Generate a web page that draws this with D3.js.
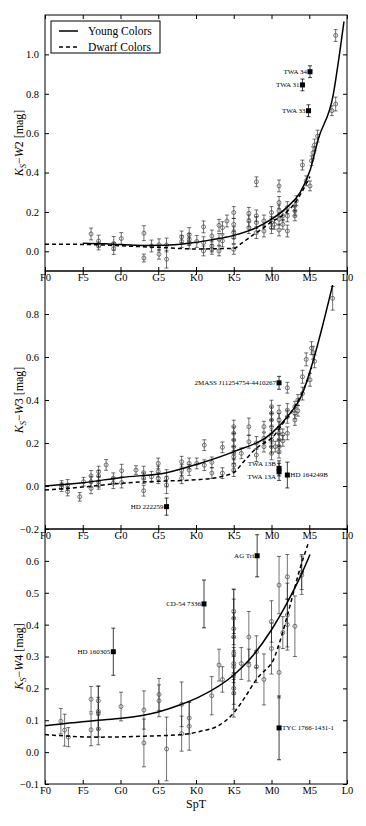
<!DOCTYPE html>
<html>
<head>
<meta charset="utf-8">
<script src="https://cdn.jsdelivr.net/npm/d3@7"></script>
<style>
  body { margin: 0; background: #fff; }
  text { font-family: "Liberation Serif", serif; }
</style>
</head>
<body>
<div id="chart"></div>
<script>
// spectral type axis: F0 = 0 ... L0 = 40
const sptTicks = [0, 5, 10, 15, 20, 25, 30, 35, 40];
const sptLabels = ["F0", "F5", "G0", "G5", "K0", "K5", "M0", "M5", "L0"];

// Ks - W2   [spt, value, error]
const w2Points = [
  [6.1,0.088,0.03],[7.1,0.052,0.03],[7.1,0.027,0.02],[9.1,0.040,0.035],[9.1,0.014,0.03],[10.1,0.065,0.03],
  [13.1,0.092,0.038],[13.1,-0.034,0.02],[14.1,0.027,0.03],[15.1,0.033,0.03],[15.1,-0.015,0.025],
  [16.1,0.032,0.035],[16.1,-0.04,0.045],[18.1,0.073,0.03],[18.1,0.05,0.03],[19.1,0.085,0.035],[19.1,0.06,0.03],[19.1,0.042,0.03],
  [20.1,0.05,0.03],[21.0,0.124,0.03],[21.0,0.044,0.03],[21.0,0.002,0.025],
  [22.1,0.078,0.03],[22.1,0.027,0.03],[22.1,0.01,0.025],
  [23.05,0.132,0.03],[23.05,0.061,0.03],[23.05,0.002,0.025],[23.5,0.12,0.03],[23.5,0.053,0.03],[24.1,0.154,0.03],
  [25,0.197,0.03],[25,0.137,0.03],[25,0.095,0.03],[25,0.07,0.03],[25,0.01,0.025],
  [27,0.193,0.03],[27,0.154,0.03],[27,0.12,0.03],
  [28,0.353,0.025],[28,0.18,0.03],[28,0.146,0.03],[28,0.095,0.03],
  [29,0.154,0.03],[29,0.103,0.03],
  [30,0.197,0.03],[30,0.146,0.03],[30,0.12,0.03],[30.4,0.137,0.025],
  [31,0.332,0.03],[31,0.248,0.03],[31,0.205,0.03],[31,0.163,0.03],[31,0.108,0.03],
  [31.5,0.18,0.025],[31.5,0.137,0.025],
  [32.1,0.222,0.03],[32.1,0.18,0.03],[32.1,0.103,0.03],
  [33.1,0.231,0.025],[33.1,0.205,0.025],[33.1,0.18,0.025],[33.3,0.257,0.025],
  [34.1,0.438,0.025],[34.6,0.358,0.025],[35.1,0.332,0.025],
  [35.3,0.46,0.025],[35.5,0.50,0.03],[35.7,0.54,0.03],[36.1,0.585,0.03],
  [38.0,0.714,0.025],[38.5,0.748,0.035],[38.5,1.096,0.03]
];
const w2Named = [
  ["TWA 34", 35.1, 0.912, 0.03],
  ["TWA 31", 34.1, 0.845, 0.03],
  ["TWA 33", 34.9, 0.714, 0.03]
];
const w2Young = [[5,0.041],[8,0.038],[10,0.034],[13,0.030],[16,0.031],[19,0.041],[22,0.058],[25,0.081],[28,0.12],
  [30,0.163],[32,0.222],[33.8,0.299],[35.1,0.41],[36.2,0.57],[38.2,0.8],[39,1.0],[39.6,1.167]];
const w2Dwarf = [[0,0.036],[5,0.035],[10,0.028],[15,0.02],[20,0.012],[25,0.015],[26,0.04],[27,0.068],[28,0.095],
  [29,0.12],[30,0.15],[31,0.17],[32,0.2],[33,0.24],[34,0.3],[35.1,0.38]];

// Ks - W3
const w3Points = [
  [2.2,0.005,0.02],[2.2,-0.006,0.02],[3.0,0.005,0.025],[3.0,-0.026,0.02],[4.6,-0.05,0.02],[5.1,0.02,0.02],
  [6.1,0.047,0.025],[6.1,0.02,0.025],[6.1,-0.011,0.025],
  [7.1,0.067,0.025],[7.1,0.047,0.025],[7.1,0.02,0.025],[7.1,0.005,0.02],
  [8.1,0.098,0.025],[9.05,0.036,0.025],[9.05,0.013,0.025],[10.15,0.071,0.03],[10.15,0.016,0.025],
  [12.05,0.074,0.02],[13.07,0.062,0.03],[13.07,0.036,0.025],[13.07,-0.022,0.025],[14.1,0.043,0.025],
  [15,0.105,0.025],[15,0.067,0.025],[15,0.036,0.025],[16.1,0.036,0.04],[16.1,0.005,0.04],
  [18.1,0.113,0.025],[18.1,0.074,0.025],[18.1,0.036,0.025],[19.1,0.105,0.025],[19.1,0.074,0.025],[20.1,0.105,0.025],
  [21.1,0.19,0.025],[21.1,0.097,0.025],[22.1,0.11,0.025],[22.1,0.06,0.025],[23.5,0.18,0.025],[23.5,0.06,0.025],
  [25,0.276,0.03],[25,0.245,0.03],[25,0.214,0.03],[25,0.183,0.03],[25,0.152,0.03],[25,0.136,0.03],[25,0.097,0.03],[25,0.074,0.03],
  [26,0.152,0.025],[27,0.276,0.04],[27,0.206,0.03],[28,0.2,0.03],[28,0.144,0.03],
  [29,0.276,0.025],[29,0.222,0.025],[29,0.183,0.025],
  [30,0.369,0.03],[30,0.338,0.03],[30,0.307,0.03],[30,0.276,0.03],[30,0.23,0.03],[30,0.214,0.03],[30,0.183,0.03],[30,0.152,0.03],
  [30.5,0.183,0.025],
  [31,0.345,0.03],[31,0.307,0.03],[31,0.268,0.03],[31,0.245,0.03],[31,0.214,0.03],[31,0.183,0.03],[31,0.16,0.03],
  [31.5,0.24,0.025],[31.5,0.21,0.025],
  [32.1,0.457,0.025],[32.1,0.353,0.03],[32.1,0.322,0.03],[32.1,0.245,0.03],
  [33.1,0.369,0.025],[33.1,0.338,0.025],[33.1,0.307,0.025],[33.5,0.4,0.025],[33.5,0.35,0.025],
  [34.1,0.508,0.03],[34.1,0.43,0.03],[34.6,0.589,0.03],[35.1,0.494,0.03],
  [35.3,0.641,0.03],[35.5,0.62,0.03],[35.7,0.58,0.03],[38.1,0.873,0.055]
];
const w3Named = [
  ["2MASS J11254754-4410267", 31.0, 0.48, 0.03],
  ["TWA 13B", 31.0, 0.082, 0.035],
  ["TWA 13A", 31.0, 0.066, 0.04],
  ["HD 164249B", 32.1, 0.051, 0.06],
  ["HD 222259", 16.1, -0.096, 0.04]
];
const w3Young = [[0,0.0],[5,0.015],[10.15,0.04],[16.1,0.062],[20.5,0.105],[25,0.16],[30,0.245],[32.1,0.322],
  [34.1,0.43],[35.5,0.58],[36.8,0.75],[38.1,0.935]];
const w3Dwarf = [[0,-0.019],[5,-0.005],[10.15,0.013],[15,0.022],[20.5,0.03],[23.5,0.045],[25.2,0.067],[26,0.1],
  [27,0.14],[28,0.176],[29,0.2],[30,0.222],[31.5,0.29],[33.1,0.37],[34.5,0.47],[35.3,0.55]];

// Ks - W4
const w4Points = [
  [2.1,0.097,0.04],[2.6,0.069,0.05],[3.1,0.047,0.03],
  [6.1,0.166,0.04],[6.1,0.07,0.05],
  [7.06,0.161,0.045],[7.06,0.128,0.08],[7.06,0.122,0.05],[7.06,0.073,0.05],
  [10.07,0.143,0.045],
  [13.1,0.132,0.06],[13.1,0.029,0.075],
  [15.1,0.181,0.05],[15.1,0.161,0.05],
  [16.1,0.01,0.1],
  [18.1,0.15,0.07],[18.1,0.058,0.055],
  [19.1,0.107,0.05],[19.1,0.081,0.075],
  [22.08,0.177,0.06],[23.05,0.273,0.05],[23.5,0.228,0.04],
  [25,0.442,0.07],[25,0.42,0.06],[25,0.387,0.05],[25,0.361,0.06],[25,0.31,0.2],[25,0.278,0.05],[25,0.268,0.05],
  [25,0.242,0.06],[25,0.2,0.05],[25,0.185,0.05],
  [26,0.278,0.05],[27,0.361,0.08],[27,0.273,0.05],[28,0.315,0.05],[28,0.268,0.05],[29,0.228,0.08],
  [30,0.41,0.065],[30,0.325,0.08],[31,0.524,0.09],[31,0.25,0.08],[31.5,0.375,0.05],
  [32.1,0.55,0.07],[32.1,0.43,0.1],[32.1,0.40,0.08],[33.1,0.395,0.095],[34,0.565,0.055],[34,0.555,0.06]
];
const w4Named = [
  ["HD 160305", 9.05, 0.315, 0.074],
  ["CD-54 7336", 21.06, 0.465, 0.075],
  ["AG Tri", 28.1, 0.616, 0.066],
  ["TYC 1766-1431-1", 31.0, 0.076, 0.1]
];
const w4Young = [[0,0.083],[7.06,0.1],[10.15,0.106],[15,0.126],[18.1,0.15],[20.5,0.174],[25,0.242],[27,0.288],
  [30,0.384],[32.1,0.47],[34,0.56],[35.1,0.62]];
const w4Dwarf = [[0,0.055],[7,0.047],[13.2,0.05],[18.1,0.055],[20.5,0.065],[23.2,0.086],[25,0.123],[26.7,0.18],
  [28,0.228],[29.5,0.265],[30,0.278],[31.1,0.346],[32.4,0.455],[33.7,0.57],[34.9,0.657]];

const width = 366, height = 826;
const left = 45, right = 347;

const svg = d3.select("#chart").append("svg")
  .attr("width", width)
  .attr("height", height)
  .style("background", "#fff");

const x = d3.scaleLinear().domain([0, 40]).range([left, right]);

// labels drawn on the right side of their square
const labelRight = ["HD 164249B", "TYC 1766-1431-1"];
const labelShift = {"TWA 13B": -5, "TWA 13A": 5};

function drawPanel(p) {
  const y = d3.scaleLinear().domain(p.yDomain).range([p.bottom, p.top]);
  const g = svg.append("g");

  const clip = "clip" + p.band;
  svg.append("clipPath").attr("id", clip)
    .append("rect").attr("x", left).attr("y", p.top)
    .attr("width", right - left).attr("height", p.bottom - p.top);

  const plot = g.append("g").attr("clip-path", "url(#" + clip + ")");

  // error bars
  const eb = plot.selectAll("g.eb")
    .data(p.points)
    .enter()
    .append("g")
    .attr("stroke", "#000")
    .attr("stroke-opacity", 0.55)
    .attr("stroke-width", 1);
  eb.append("line")
    .attr("x1", d => x(d[0])).attr("x2", d => x(d[0]))
    .attr("y1", d => y(d[1] - d[2])).attr("y2", d => y(d[1] + d[2]));
  eb.append("line")
    .attr("x1", d => x(d[0]) - 2).attr("x2", d => x(d[0]) + 2)
    .attr("y1", d => y(d[1] + d[2])).attr("y2", d => y(d[1] + d[2]));
  eb.append("line")
    .attr("x1", d => x(d[0]) - 2).attr("x2", d => x(d[0]) + 2)
    .attr("y1", d => y(d[1] - d[2])).attr("y2", d => y(d[1] - d[2]));

  plot.selectAll("circle")
    .data(p.points)
    .enter()
    .append("circle")
    .attr("cx", d => x(d[0]))
    .attr("cy", d => y(d[1]))
    .attr("r", 2)
    .attr("fill", "none")
    .attr("stroke", "#555")
    .attr("stroke-width", 0.8);

  const line = d3.line()
    .x(d => x(d[0]))
    .y(d => y(d[1]))
    .curve(d3.curveMonotoneX);

  plot.append("path")
    .attr("d", line(p.dwarf))
    .attr("fill", "none")
    .attr("stroke", "#000")
    .attr("stroke-width", 1.5)
    .attr("stroke-dasharray", "4,3");

  plot.append("path")
    .attr("d", line(p.young))
    .attr("fill", "none")
    .attr("stroke", "#000")
    .attr("stroke-width", 1.5);

  // named objects
  const nm = g.selectAll("g.named")
    .data(p.named)
    .enter()
    .append("g");
  nm.append("line")
    .attr("x1", d => x(d[1])).attr("x2", d => x(d[1]))
    .attr("y1", d => y(d[2] - d[3])).attr("y2", d => y(d[2] + d[3]))
    .attr("stroke", "#000").attr("stroke-opacity", 0.75);
  nm.append("line")
    .attr("x1", d => x(d[1]) - 2).attr("x2", d => x(d[1]) + 2)
    .attr("y1", d => y(d[2] + d[3])).attr("y2", d => y(d[2] + d[3]))
    .attr("stroke", "#000").attr("stroke-opacity", 0.75);
  nm.append("line")
    .attr("x1", d => x(d[1]) - 2).attr("x2", d => x(d[1]) + 2)
    .attr("y1", d => y(d[2] - d[3])).attr("y2", d => y(d[2] - d[3]))
    .attr("stroke", "#000").attr("stroke-opacity", 0.75);
  nm.append("rect")
    .attr("x", d => x(d[1]) - 2.5)
    .attr("y", d => y(d[2]) - 2.5)
    .attr("width", 5).attr("height", 5)
    .attr("fill", "#000");
  nm.append("text")
    .attr("x", d => labelRight.includes(d[0]) ? x(d[1]) + 3 : x(d[1]) - 3)
    .attr("y", d => y(d[2]) + (labelShift[d[0]] || 0))
    .attr("dy", "0.35em")
    .attr("text-anchor", d => labelRight.includes(d[0]) ? "start" : "end")
    .attr("font-size", 7)
    .text(d => d[0]);

  // axes, ticks pointing inward
  const fmt = d3.format(".1f");
  g.append("g")
    .attr("transform", `translate(0,${p.bottom})`)
    .call(d3.axisBottom(x).tickValues(sptTicks).tickFormat((d, i) => sptLabels[i])
      .tickSizeInner(-4).tickSizeOuter(0).tickPadding(2.5))
    .call(a => a.select(".domain").remove())
    .call(a => a.selectAll("text").attr("font-size", 10.5).attr("font-family", "Liberation Serif").attr("fill", "#000"));
  g.append("g")
    .attr("transform", `translate(0,${p.top})`)
    .call(d3.axisTop(x).tickValues(sptTicks).tickFormat("").tickSizeInner(-4).tickSizeOuter(0))
    .call(a => a.select(".domain").remove());
  g.append("g")
    .attr("transform", `translate(${left},0)`)
    .call(d3.axisLeft(y).tickValues(p.yTicks).tickFormat(fmt)
      .tickSizeInner(-4).tickSizeOuter(0).tickPadding(6))
    .call(a => a.select(".domain").remove())
    .call(a => a.selectAll("text").attr("font-size", 10.5).attr("font-family", "Liberation Serif").attr("fill", "#000"));
  g.append("g")
    .attr("transform", `translate(${right},0)`)
    .call(d3.axisRight(y).tickValues(p.yTicks).tickFormat("").tickSizeInner(-4).tickSizeOuter(0))
    .call(a => a.select(".domain").remove());

  g.append("rect")
    .attr("x", left).attr("y", p.top)
    .attr("width", right - left).attr("height", p.bottom - p.top)
    .attr("fill", "none")
    .attr("stroke", "#000")
    .attr("stroke-width", 1);

  // y label  K_S - W# [mag]
  const yl = g.append("text")
    .attr("transform", `translate(23,${(p.top + p.bottom) / 2}) rotate(-90)`)
    .attr("text-anchor", "middle")
    .attr("font-size", 12);
  yl.append("tspan").attr("font-style", "italic").text("K");
  yl.append("tspan").attr("font-style", "italic").attr("font-size", 8.5).attr("dy", 2.5).text("S");
  yl.append("tspan").attr("dy", -2.5).text("\u2212");
  yl.append("tspan").attr("font-style", "italic").text("W");
  yl.append("tspan").text(p.band + " [mag]");
}

drawPanel({band: "2", top: 15, bottom: 271, yDomain: [-0.1, 1.2], yTicks: [0, 0.2, 0.4, 0.6, 0.8, 1.0],
  points: w2Points, named: w2Named, young: w2Young, dwarf: w2Dwarf});
drawPanel({band: "3", top: 271, bottom: 529, yDomain: [-0.2, 1.0], yTicks: [-0.2, 0, 0.2, 0.4, 0.6, 0.8],
  points: w3Points, named: w3Named, young: w3Young, dwarf: w3Dwarf});
drawPanel({band: "4", top: 529, bottom: 784, yDomain: [-0.1, 0.7], yTicks: [-0.1, 0, 0.1, 0.2, 0.3, 0.4, 0.5, 0.6],
  points: w4Points, named: w4Named, young: w4Young, dwarf: w4Dwarf});

svg.append("text")
  .attr("x", (left + right) / 2)
  .attr("y", 808)
  .attr("text-anchor", "middle")
  .attr("font-size", 12)
  .text("SpT");

// legend
const legend = svg.append("g");
legend.append("rect")
  .attr("x", 51).attr("y", 21).attr("width", 109).attr("height", 32)
  .attr("fill", "#fff").attr("stroke", "#000").attr("stroke-width", 1);
const legendItems = [["Young Colors", null], ["Dwarf Colors", "4,3"]];
legendItems.forEach((it, i) => {
  const yy = 31 + i * 16;
  legend.append("line")
    .attr("x1", 59).attr("x2", 78).attr("y1", yy).attr("y2", yy)
    .attr("stroke", "#000").attr("stroke-width", 1.5)
    .attr("stroke-dasharray", it[1]);
  legend.append("text")
    .attr("x", 88).attr("y", yy).attr("dy", "0.35em")
    .attr("font-size", 11.5)
    .text(it[0]);
});
</script>
</body>
</html>
